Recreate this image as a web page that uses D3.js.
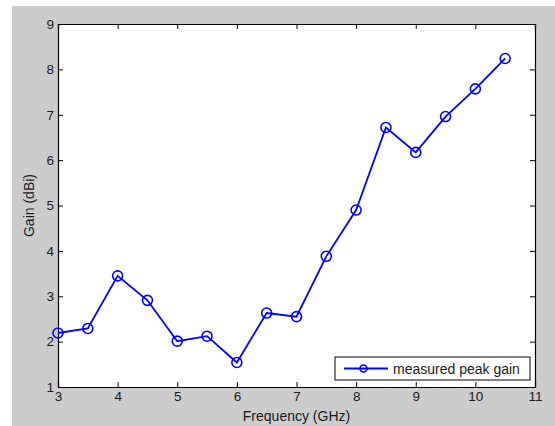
<!DOCTYPE html>
<html>
<head>
<meta charset="utf-8">
<script src="https://cdn.jsdelivr.net/npm/d3@7"></script>
<style>
  body { margin: 0; background: #fff; }
  text { font-family: "Liberation Sans", Arial, sans-serif; fill: #1a1a1a; }
</style>
</head>
<body>
<svg id="chart"></svg>
<script>
// data
const freq = [3, 3.5, 4, 4.5, 5, 5.5, 6, 6.5, 7, 7.5, 8, 8.5, 9, 9.5, 10, 10.5];
const gain = [2.19, 2.29, 3.45, 2.91, 2.01, 2.12, 1.54, 2.63, 2.55, 3.88, 4.9, 6.72, 6.17, 6.96, 7.57, 8.24];
const xTicks = [3, 4, 5, 6, 7, 8, 9, 10, 11];
const yTicks = [1, 2, 3, 4, 5, 6, 7, 8, 9];
const seriesName = "measured peak gain";

const W = 555, H = 426;
const margin = {top: 24, right: 20, bottom: 40, left: 58};
const width = 535 - margin.left;
const height = 387 - margin.top;

const svg = d3.select("#chart").attr("width", W).attr("height", H);

// grey figure background
svg.append("rect").attr("x", 12).attr("y", 6).attr("width", W - 12).attr("height", H - 6).attr("fill", "#cccccc");

const g = svg.append("g").attr("transform", `translate(${margin.left},${margin.top})`);

const x = d3.scaleLinear().domain([3, 11]).range([0, width]);
const y = d3.scaleLinear().domain([1, 9]).range([height, 0]);

g.append("rect").attr("width", width).attr("height", height).attr("fill", "#fff");

// axes, ticks point inward
const xaxis = d3.axisBottom(x).tickValues(xTicks).tickSize(-5).tickPadding(4).tickFormat(d3.format("d"));
const yaxis = d3.axisLeft(y).tickValues(yTicks).tickSize(-5).tickPadding(4).tickFormat(d3.format("d"));

g.append("g").attr("transform", `translate(0,${height})`).call(xaxis);
g.append("g").call(yaxis);
g.append("g").call(d3.axisTop(x).tickValues(xTicks).tickSize(-5).tickFormat(""));
g.append("g").attr("transform", `translate(${width},0)`).call(d3.axisRight(y).tickValues(yTicks).tickSize(-5).tickFormat(""));

g.selectAll(".domain").attr("stroke", "#000").attr("stroke-width", 1.2);
g.selectAll(".tick line").attr("stroke", "#000");
g.selectAll(".tick text").attr("font-size", 13.5).attr("fill", "#1a1a1a");

// line + markers
const line = d3.line().x((d, i) => x(freq[i])).y(d => y(d));
g.append("path").datum(gain)
  .attr("fill", "none").attr("stroke", "#0000ff").attr("stroke-width", 1.8)
  .attr("d", line);

g.selectAll("circle.pt").data(gain).join("circle")
  .attr("class", "pt")
  .attr("cx", (d, i) => x(freq[i]))
  .attr("cy", d => y(d))
  .attr("r", 5)
  .attr("fill", "none").attr("stroke", "#0000ff").attr("stroke-width", 1.6);

// axis labels
svg.append("text").attr("x", margin.left + width / 2).attr("y", 421)
  .attr("text-anchor", "middle").attr("font-size", 14).text("Frequency (GHz)");
svg.append("text").attr("transform", `translate(34,${margin.top + height / 2}) rotate(-90)`)
  .attr("text-anchor", "middle").attr("font-size", 14).text("Gain (dBi)");

// legend
const lg = g.append("g").attr("transform", `translate(${335 - margin.left},${357 - margin.top})`);
lg.append("rect").attr("width", 195).attr("height", 23).attr("fill", "#fff").attr("stroke", "#000");
lg.append("line").attr("x1", 9).attr("x2", 53).attr("y1", 11.5).attr("y2", 11.5)
  .attr("stroke", "#0000ff").attr("stroke-width", 1.8);
lg.append("circle").attr("cx", 28.5).attr("cy", 11.5).attr("r", 3.5)
  .attr("fill", "none").attr("stroke", "#0000ff").attr("stroke-width", 1.6);
lg.append("text").attr("x", 58).attr("y", 16.5).attr("font-size", 14).text(seriesName);
</script>
</body>
</html>
